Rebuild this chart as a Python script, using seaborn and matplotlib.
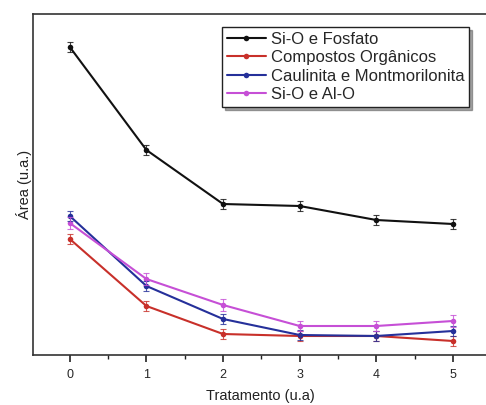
import matplotlib
matplotlib.use("Agg")
import matplotlib.pyplot as plt
import seaborn as sns
import pandas as pd
import numpy as np
from matplotlib.ticker import MultipleLocator

sns.set_theme(style="white")
plt.rcParams['font.family'] = ['Liberation Sans', 'DejaVu Sans']

tratamento = [0, 1, 2, 3, 4, 5]
si_o_fosfato = [308, 205, 151, 149, 135, 131]
compostos_organicos = [116, 49, 21, 19, 19, 14]
caulinita_montmorilonita = [139, 69, 36, 20, 19, 24]
si_o_al_o = [132, 76, 50, 29, 29, 34]
err_fosfato = [5, 5, 5, 5, 5, 5]
err_org = [5, 5, 5, 5, 5, 5]
err_caul = [5, 5, 5, 5, 5, 5]
err_sial = [6, 6, 6, 5, 5, 6]

series_names = ["Si-O e Fosfato", "Compostos Orgânicos",
                "Caulinita e Montmorilonita", "Si-O e Al-O"]
series_vals = [si_o_fosfato, compostos_organicos, caulinita_montmorilonita, si_o_al_o]
series_err = [err_fosfato, err_org, err_caul, err_sial]
colors = ["#111111", "#c8302a", "#25309a", "#c64fd6"]

df = pd.DataFrame({
    "Tratamento": tratamento * 4,
    "Area": sum(series_vals, []),
    "Serie": sum([[n] * len(tratamento) for n in series_names], []),
})

fig = plt.figure(figsize=(4.86, 4.05), dpi=100)
ax = fig.add_axes([33/486, 50/405, 0.935, 341/405])

palette = dict(zip(series_names, colors))
sns.lineplot(data=df, x="Tratamento", y="Area", hue="Serie", palette=palette,
             marker="o", markersize=4, markeredgewidth=0, linewidth=1.5, ax=ax,
             hue_order=series_names)

for vals, err, c in zip(series_vals, series_err, colors):
    ax.errorbar(tratamento, vals, yerr=err, fmt="none", ecolor=c,
                elinewidth=0.8, capsize=2.5, capthick=0.8, alpha=0.8)

ax.set_xlim(-0.48, 5.45)
ax.set_ylim(0, 341)
ax.set_yticks([])
ax.xaxis.set_major_locator(MultipleLocator(1))
ax.xaxis.set_minor_locator(MultipleLocator(0.5))
ax.tick_params(axis="x", which="major", direction="out", length=5, width=1.2,
               labelsize=9, pad=5, color="#222222", bottom=True)
ax.tick_params(axis="x", which="minor", direction="out", length=3, width=1,
               color="#222222", bottom=True)
for s in ["left", "bottom", "top"]:
    ax.spines[s].set_color("#333333")
    ax.spines[s].set_linewidth(1.2)
ax.spines["right"].set_visible(False)

ax.set_xlabel("Tratamento (u.a)", fontsize=10.5, color="#222222", labelpad=6)
ax.set_ylabel("Área (u.a.)", fontsize=10.5, color="#222222", labelpad=1)

leg = ax.legend(loc="upper right", bbox_to_anchor=(0.96, 0.962), fontsize=12,
                frameon=True, fancybox=False, shadow=True, handlelength=2.3,
                borderpad=0.3, labelspacing=0.2, handletextpad=0.3,
                borderaxespad=0, title=None)
leg.get_frame().set_edgecolor("#222222")
leg.get_frame().set_linewidth(1.0)

fig.savefig("out.png", dpi=100)
